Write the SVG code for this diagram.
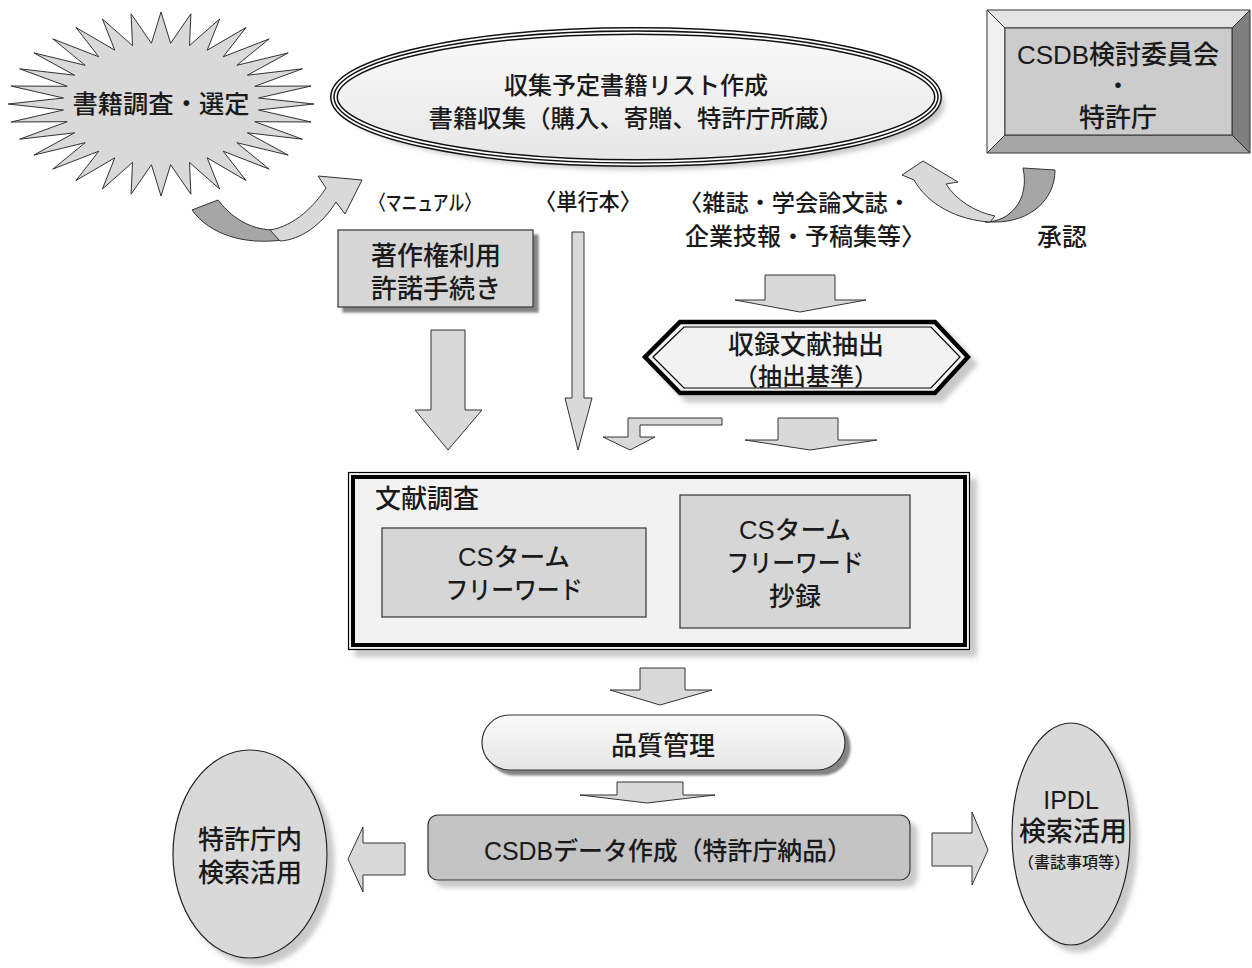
<svg xmlns="http://www.w3.org/2000/svg" width="1252" height="968" viewBox="0 0 1252 968">
<defs>
<filter id="sh" x="-10%" y="-10%" width="130%" height="140%"><feDropShadow dx="7" dy="7" stdDeviation="2.5" flood-color="#888" flood-opacity="0.45"/></filter>
<filter id="shd" x="-10%" y="-10%" width="130%" height="140%"><feDropShadow dx="5" dy="5" stdDeviation="0.8" flood-color="#666" flood-opacity="0.8"/></filter>
<linearGradient id="gl" x1="0" y1="0" x2="0" y2="1"><stop offset="0" stop-color="#fafafa"/><stop offset="1" stop-color="#e6e6e6"/></linearGradient>
</defs>
<style>
text{font-family:"Liberation Sans","Noto Sans CJK JP",sans-serif;font-weight:500;fill:#1a1a1a;text-anchor:middle;dominant-baseline:central}
.blk{fill:#d9d9d9;stroke:#333;stroke-width:1}
.gray{fill:#d6d6d6;stroke:#333;stroke-width:1.2}
</style>

<g id="connectors">
<path class="blk" d="M431,330 L465,330 L465,410 L482,410 L448,450 L415,410 L431,410 Z"/>
<path class="blk" d="M572,232 L584,232 L584,398 L592,398 L578,450 L565,398 L572,398 Z"/>
<path class="blk" d="M765,275 L835,275 L835,300 L866,300 L800,312 L735,300 L765,300 Z"/>
<path class="blk" d="M722,418 L722,425 L640,425 L640,437 L655,437 L630,450 L603,437 L628,437 L628,418 Z"/>
<path class="blk" d="M778,418 L838,418 L838,440 L877,440 L810,450 L745,440 L778,440 Z"/>
<path class="blk" d="M640,668 L685,668 L685,690 L712,690 L660,705 L610,690 L640,690 Z"/>
<path class="blk" d="M617,782 L683,782 L683,795 L715,795 L647,803 L580,795 L617,795 Z"/>
<path class="blk" d="M405,843 L405,875 L363,875 L363,892 L348,859 L363,827 L363,843 Z"/>
<path class="blk" d="M932,833 L972,833 L972,812 L988,850 L972,885 L972,866 L932,866 Z"/>
<path d="M192,210 L218,200 C235,222 255,230 275,230 L282,240 C245,245 210,235 192,210 Z" fill="#a6a6a6" stroke="#333" stroke-width="1"/>
<path d="M270,230 C295,226 315,205 326,188 L318,176 L362,180 L345,214 L336,202 C322,225 300,240 280,241 Z" fill="#d9d9d9" stroke="#333" stroke-width="1"/>
<path d="M985,222 C1010,222 1030,200 1023,168 L1055,170 C1055,200 1030,222 995,222 Z" fill="#a6a6a6" stroke="#333" stroke-width="1"/>
<path d="M990,222 C958,220 928,205 914,180 L902,175 L923,161 L958,182 L946,184 C956,200 975,212 995,216 Z" fill="#d9d9d9" stroke="#333" stroke-width="1"/>
</g>

<g id="n-select">
<polygon fill="#d9d9d9" stroke="#333" stroke-width="1" points="314,104 258.5,110 311.1,122 254.8,121.7 302.4,139.2 247.4,132.8 288.2,155.1 236.8,142.7 269.2,169.1 223.2,151.2 246,180.5 207.2,157.8 219.6,189 189.5,162.4 190.9,194.2 170.6,164.7 161,196 151.4,164.7 131.1,194.2 132.5,162.4 102.4,189 114.8,157.8 76,180.5 98.8,151.2 52.8,169.1 85.2,142.7 33.8,155.1 74.6,132.8 19.6,139.2 67.2,121.7 10.9,122 63.5,110 8,104 63.5,98 10.9,86 67.2,86.3 19.6,68.8 74.6,75.2 33.8,52.9 85.2,65.3 52.8,38.9 98.8,56.8 76,27.5 114.8,50.2 102.4,19 132.5,45.6 131.1,13.8 151.4,43.3 161,12 170.6,43.3 190.9,13.8 189.5,45.6 219.6,19 207.2,50.2 246,27.5 223.2,56.8 269.2,38.9 236.8,65.3 288.2,52.9 247.4,75.2 302.4,68.8 254.8,86.3 311.1,86 258.5,98"/>
<text x="161" y="104" font-size="25" textLength="177" lengthAdjust="spacingAndGlyphs">書籍調査・選定</text>
</g>

<g id="n-collect">
<ellipse cx="636" cy="97" rx="302" ry="66" fill="url(#gl)" filter="url(#sh)"/>
<ellipse cx="636" cy="97" rx="302" ry="66" fill="none" stroke="#111" stroke-width="8"/>
<ellipse cx="636" cy="97" rx="302" ry="66" fill="none" stroke="#fff" stroke-width="5"/>
<ellipse cx="636" cy="97" rx="302" ry="66" fill="none" stroke="#111" stroke-width="1.5"/>
<text x="636" y="85" font-size="24">収集予定書籍リスト作成</text>
<text x="636" y="118" font-size="24" textLength="415" lengthAdjust="spacingAndGlyphs">書籍収集（購入、寄贈、特許庁所蔵）</text>
</g>

<g id="n-committee">
<rect x="987" y="10" width="263" height="143" fill="#ccc"/>
<polygon points="987,10 1250,10 1232,28 1005,28" fill="#e4e4e4" stroke="#333" stroke-width="1"/>
<polygon points="987,10 1005,28 1005,135 987,153" fill="#f0f0f0" stroke="#333" stroke-width="1"/>
<polygon points="1250,10 1250,153 1232,135 1232,28" fill="#7f7f7f" stroke="#333" stroke-width="1"/>
<polygon points="987,153 1005,135 1232,135 1250,153" fill="#a6a6a6" stroke="#333" stroke-width="1"/>
<rect x="1005" y="28" width="227" height="107" fill="#cccccc" stroke="#333" stroke-width="1"/>
<text x="1118" y="55" font-size="26">CSDB検討委員会</text>
<text x="1118" y="85" font-size="24">・</text>
<text x="1118" y="118" font-size="26">特許庁</text>
</g>

<g id="labels">
<text x="425" y="202" font-size="21" textLength="110" lengthAdjust="spacingAndGlyphs">〈マニュアル〉</text>
<text x="588" y="202" font-size="23" textLength="106" lengthAdjust="spacingAndGlyphs">〈単行本〉</text>
<text x="795" y="203" font-size="23" textLength="232" lengthAdjust="spacingAndGlyphs">〈雑誌・学会論文誌・</text>
<text x="805" y="236" font-size="24" textLength="240" lengthAdjust="spacingAndGlyphs">企業技報・予稿集等〉</text>
<text x="1062" y="237" font-size="25">承認</text>
</g>

<g id="n-copyright">
<rect x="338" y="230" width="195" height="77" class="gray" filter="url(#shd)"/>
<text x="436" y="256" font-size="26">著作権利用</text>
<text x="436" y="289" font-size="26">許諾手続き</text>
</g>

<g id="n-extract">
<polygon points="645,357 680,322 935,322 968,357 935,393 680,393" fill="#f2f2f2" stroke="#000" stroke-width="4.5" filter="url(#sh)"/>
<polygon points="653,357 684,327 931,327 960,357 931,388 684,388" fill="none" stroke="#000" stroke-width="1.2"/>
<text x="806" y="345" font-size="26">収録文献抽出</text>
<text x="806" y="376" font-size="24">（抽出基準）</text>
</g>

<g id="n-survey">
<rect x="348.5" y="472.5" width="621" height="177" fill="#f2f2f2" stroke="#000" stroke-width="1.2" filter="url(#sh)"/>
<rect x="353" y="477" width="612" height="168" fill="none" stroke="#000" stroke-width="4"/>
<text x="375" y="499" font-size="26" style="text-anchor:start">文献調査</text>
<rect x="382" y="528" width="264" height="89" class="gray"/>
<text x="514" y="557" font-size="25" textLength="112" lengthAdjust="spacingAndGlyphs">CSターム</text>
<text x="514" y="590" font-size="25" textLength="137" lengthAdjust="spacingAndGlyphs">フリーワード</text>
<rect x="680" y="495" width="230" height="133" class="gray"/>
<text x="795" y="530" font-size="25" textLength="112" lengthAdjust="spacingAndGlyphs">CSターム</text>
<text x="795" y="563" font-size="25" textLength="137" lengthAdjust="spacingAndGlyphs">フリーワード</text>
<text x="795" y="597" font-size="26">抄録</text>
</g>

<g id="n-quality">
<rect x="482" y="715" width="363" height="55" rx="27.5" fill="url(#gl)" stroke="#333" stroke-width="1.2" filter="url(#shd)"/>
<text x="663" y="746" font-size="26">品質管理</text>
</g>

<g id="n-csdb">
<rect x="428" y="815" width="482" height="65" rx="10" fill="#c4c4c4" stroke="#333" stroke-width="1.2" filter="url(#sh)"/>
<text x="668" y="851" font-size="25" textLength="368" lengthAdjust="spacingAndGlyphs">CSDBデータ作成（特許庁納品）</text>
</g>

<g id="n-internal">
<ellipse cx="250" cy="854" rx="77" ry="104" fill="#d9d9d9" stroke="#222" stroke-width="1.2" filter="url(#sh)"/>
<text x="250" y="840" font-size="26">特許庁内</text>
<text x="250" y="873" font-size="26">検索活用</text>
</g>

<g id="n-ipdl">
<ellipse cx="1071" cy="834" rx="59" ry="111" fill="#d9d9d9" stroke="#222" stroke-width="1.2" filter="url(#sh)"/>
<text x="1071" y="800" font-size="25">IPDL</text>
<text x="1073" y="832" font-size="27">検索活用</text>
<text x="1074" y="862" font-size="15.5" textLength="112" lengthAdjust="spacingAndGlyphs">（書誌事項等）</text>
</g>
</svg>
